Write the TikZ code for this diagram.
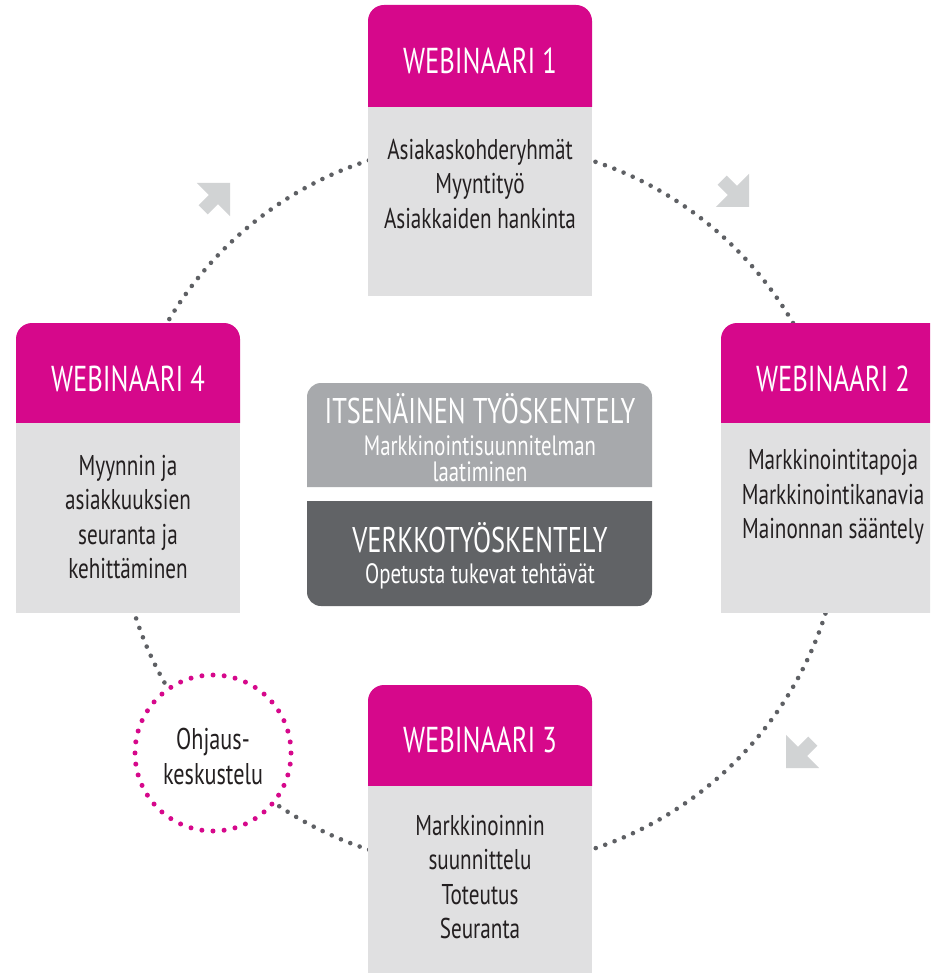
\documentclass[tikz,border=0pt]{standalone}
\usepackage{fontspec}
\setmainfont{PT Sans}[FakeStretch=0.74]
\definecolor{mag}{HTML}{D6088B}
\definecolor{boxgray}{HTML}{E0E0E1}
\definecolor{dotgray}{HTML}{5E6064}
\definecolor{arrgray}{HTML}{D1D3D4}
\definecolor{midgray}{HTML}{A7A9AC}
\definecolor{dkgray}{HTML}{616366}
\definecolor{txt}{HTML}{231F20}
\tikzset{
  hdr/.style={text=white, inner sep=0pt, font=\fontsize{36}{40}\selectfont},
  body/.style={text=txt, inner sep=0pt, align=center, font=\fontsize{28.6}{34.5}\selectfont},
  ctitle/.style={text=white, inner sep=0pt, anchor=base, font=\fontsize{35.7}{40}\selectfont},
  csub/.style={text=white, inner sep=0pt, anchor=base, font=\fontsize{28}{24}\selectfont},
  blockarrow/.pic={\fill[arrgray] (0,0) -- (-23.5,23.5) -- (-23.5,6.5) -- (-38,6.5) -- (-38,-6.5) -- (-23.5,-6.5) -- (-23.5,-23.5) -- cycle;},
  gdots/.style={dotgray, line width=4.6, line cap=round, dash pattern=on 0pt off 10.02pt},
  mdots/.style={mag, fill=white, line width=5, line cap=round, dash pattern=on 0pt off 11.14pt}
}
\begin{document}
\begin{tikzpicture}[x=1pt,y=-1pt]
\useasboundingbox (0,0) rectangle (930,973);
\clip (0,0) rectangle (930,973);
\fill[white] (0,0) rectangle (930,973);
% cycle
\draw[gdots] (480,505) circle[radius=362];
% arrows
\pic[rotate=45] at (230,183) {blockarrow};
\pic[rotate=-45] at (749,207) {blockarrow};
\pic[rotate=-135] at (786,768) {blockarrow};
% WEBINAARI 1
\fill[mag] (368,107) [rounded corners=16] -- (368,5) -- (592,5) [sharp corners] -- (592,107) -- cycle;
\fill[boxgray] (368,107) rectangle (592,296);
\node[hdr] (h1) at (480,61) {WEBINAARI 1};
\node[body] (b1) at (480,184) {Asiakaskohderyhmät\\Myyntityö\\Asiakkaiden hankinta};
% WEBINAARI 4
\fill[mag] (16,423) [rounded corners=16] -- (16,323) -- (240,323) [sharp corners] -- (240,423) -- cycle;
\fill[boxgray] (16,423) rectangle (240,613);
\node[hdr] (h4) at (128,379) {WEBINAARI 4};
\node[body] (b4) at (128,517) {Myynnin ja\\asiakkuuksien\\seuranta ja\\kehittäminen};
% WEBINAARI 2
\fill[mag] (721,423) [rounded corners=16] -- (721,323) -- (945,323) [sharp corners] -- (945,423) -- cycle;
\fill[boxgray] (721,423) rectangle (945,613);
\node[hdr] (h2) at (833,379) {WEBINAARI 2};
\node[body] (b2) at (833,497) {Markkinointitapoja\\Markkinointikanavia\\Mainonnan sääntely};
% WEBINAARI 3
\fill[mag] (368,786) [rounded corners=16] -- (368,685) -- (592,685) [sharp corners] -- (592,786) -- cycle;
\fill[boxgray] (368,786) rectangle (592,990);
\node[hdr] (h3) at (480,740) {WEBINAARI 3};
\node[body] (b3) at (480,877) {Markkinoinnin\\suunnittelu\\Toteutus\\Seuranta};
% centre
\fill[midgray] (307,487) [rounded corners=14] -- (307,383) -- (652,383) [sharp corners] -- (652,487) -- cycle;
\fill[dkgray] (307,501) [rounded corners=14] -- (307,606) -- (652,606) [sharp corners] -- (652,501) -- cycle;
\node[ctitle] (it) at (480,423) {ITSENÄINEN TYÖSKENTELY};
\node[csub] (its1) at (480,455) {Markkinointisuunnitelman};
\node[csub] (its2) at (480,481) {laatiminen};
\node[ctitle] (vk) at (480,552) {VERKKOTYÖSKENTELY};
\node[csub] (vks) at (480,583) {Opetusta tukevat tehtävät};
% Ohjaus circle
\draw[mdots] (213,753) circle[radius=78];
\node[body, font=\fontsize{30}{35}\selectfont] (oh) at (213,756) {Ohjaus-\\keskustelu};
\end{tikzpicture}
\end{document}
